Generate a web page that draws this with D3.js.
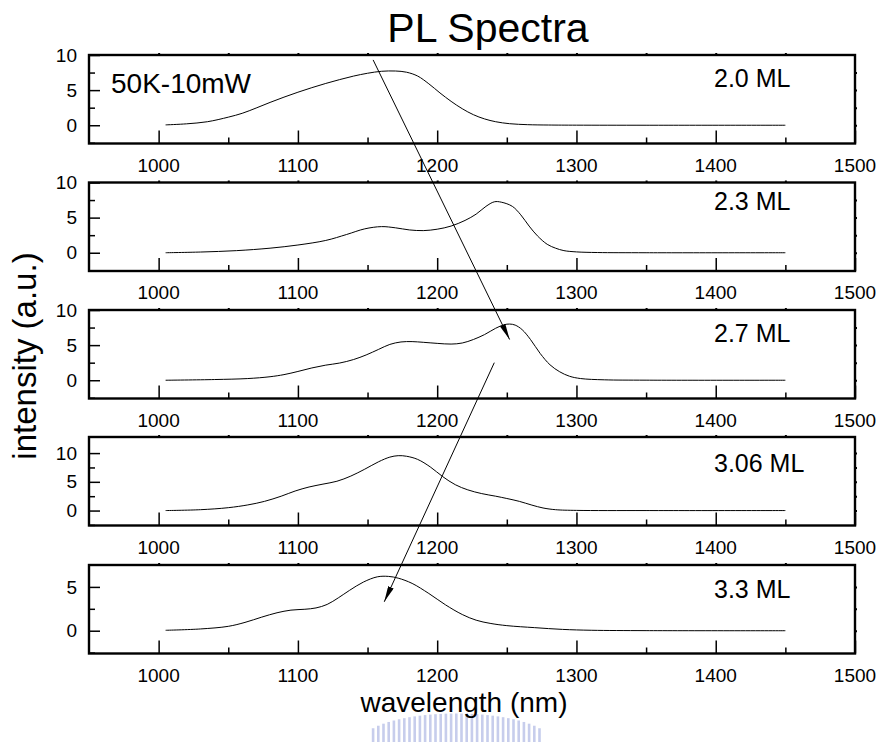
<!DOCTYPE html>
<html>
<head>
<meta charset="utf-8">
<script src="https://cdn.jsdelivr.net/npm/d3@7"></script>
<style>
  html, body { margin: 0; padding: 0; background: #fff; }
  svg { display: block; font-family: "Liberation Sans", Arial, sans-serif; }
</style>
</head>
<body>
<svg id="chart" width="882" height="742"></svg>
<script>
// ---------------- data ----------------
const panelLabels = ["2.0 ML", "2.3 ML", "2.7 ML", "3.06 ML", "3.3 ML"];
const xTicks = [1000, 1100, 1200, 1300, 1400, 1500];
const yDomains = [[-2.6, 10], [-2.6, 10], [-2.6, 10], [-2.6, 12.8], [-2.6, 7.5]];
const yTicks = [[0, 5, 10], [0, 5, 10], [0, 5, 10], [0, 5, 10], [0, 5]];

const wl_20 = [1005,1020,1035,1050,1060,1070,1080,1090,1100,1110,1120,1130,1140,1150,1160,1170,1178,1186,1194,1202,1210,1218,1226,1234,1242,1252,1265,1280,1300,1350,1450];
const in_20 = [0.05,0.2,0.5,1.15,1.7,2.45,3.25,4.0,4.7,5.35,5.95,6.5,7.0,7.4,7.68,7.72,7.55,7.0,5.9,4.6,3.4,2.35,1.5,0.9,0.5,0.22,0.08,0.03,0.01,0.0,0.0];

const wl_23 = [1005,1030,1056,1080,1100,1120,1135,1148,1160,1170,1180,1190,1200,1210,1220,1228,1235,1241,1246,1254,1260,1266,1272,1279,1285,1291,1300,1315,1350,1450];
const in_23 = [0.0,0.1,0.3,0.65,1.1,1.75,2.6,3.4,3.72,3.55,3.25,3.15,3.35,3.8,4.6,5.5,6.6,7.25,7.2,6.6,5.4,3.8,2.4,1.2,0.65,0.3,0.12,0.03,0.0,0.0];

const wl_27 = [1005,1040,1064,1080,1090,1100,1110,1120,1130,1140,1149,1158,1166,1174,1182,1190,1200,1210,1218,1226,1234,1242,1248,1252,1256,1261,1267,1274,1281,1288,1295,1303,1320,1350,1450];
const in_27 = [0.0,0.1,0.24,0.5,0.8,1.25,1.75,2.15,2.45,2.95,3.6,4.4,5.1,5.45,5.5,5.4,5.25,5.15,5.3,5.8,6.5,7.4,7.9,8.0,7.85,7.2,5.8,3.8,2.2,1.2,0.57,0.24,0.06,0.01,0.0];

const wl_306 = [1005,1030,1050,1064,1076,1088,1098,1108,1118,1128,1138,1148,1158,1166,1172,1178,1186,1195,1204,1213,1222,1232,1242,1250,1259,1268,1276,1285,1300,1350,1450];
const in_306 = [0.0,0.15,0.5,0.98,1.6,2.5,3.4,4.1,4.6,5.1,6.0,7.2,8.5,9.3,9.55,9.45,8.9,7.6,5.9,4.5,3.6,2.95,2.5,2.1,1.6,0.95,0.45,0.15,0.03,0.0,0.0];

const wl_33 = [1005,1030,1050,1062,1074,1085,1095,1105,1113,1121,1129,1137,1147,1157,1165,1172,1182,1194,1206,1218,1228,1238,1250,1270,1290,1311,1350,1450];
const in_33 = [0.05,0.2,0.5,0.95,1.55,2.05,2.35,2.45,2.6,3.0,3.75,4.6,5.55,6.15,6.2,6.0,5.4,4.25,2.95,1.85,1.2,0.84,0.58,0.35,0.15,0.05,0.01,0.0];

const wavelengths = [wl_20, wl_23, wl_27, wl_306, wl_33];
const intensities = [in_20, in_23, in_27, in_306, in_33];

// arrows: [panel index, wavelength, intensity] start -> end
const arrowStarts = [[0, 1154, 9.3], [2, 1241, 2.5]];
const arrowEnds   = [[2, 1252, 5.8], [4, 1162, 3.3]];

const titleText = "PL Spectra";
const conditionText = "50K-10mW";
const xTitle = "wavelength (nm)";
const yTitle = "intensity (a.u.)";

// ---------------- layout ----------------
const svg = d3.select("#chart");
const left = 89, right = 855;
const panelTops = [55, 182.5, 310, 437, 565];
const panelH = 88.5;
const labelBaselines = [87, 210, 342, 472, 598];

const x = d3.scaleLinear().domain([950, 1500]).range([left, right]);
const yScales = yDomains.map((d, i) => d3.scaleLinear().domain(d).range([panelTops[i] + panelH, panelTops[i]]));

// faint watermark (decorative, behind everything)
const wm = svg.append("g").attr("opacity", 0.55);
const wmCx = 455, wmR = 95;
d3.range(-16, 17).forEach(k => {
  const bx = wmCx + k * 5.2;
  const topY = 742 - Math.sqrt(Math.max(0, wmR * wmR - (k * 5.2) * (k * 5.2))) * 0.3;
  wm.append("rect").attr("x", bx).attr("y", topY).attr("width", 2.6).attr("height", 742 - topY)
    .attr("fill", "#9aa6de");
});

// arrow marker
svg.append("defs").append("marker")
  .attr("id", "arrowhead")
  .attr("viewBox", "0 0 16 6")
  .attr("refX", 16).attr("refY", 3)
  .attr("markerWidth", 16).attr("markerHeight", 6)
  .attr("markerUnits", "userSpaceOnUse")
  .attr("orient", "auto")
  .append("path").attr("d", "M0,0 L16,3 L0,6 Z").attr("fill", "#000");

const line = d3.line().curve(d3.curveCatmullRom.alpha(0.5));

panelLabels.forEach((lab, i) => {
  const y = yScales[i];
  const g = svg.append("g");
  const top = panelTops[i], bot = panelTops[i] + panelH;

  // curve
  const pts = wavelengths[i].map((w, k) => [x(w), y(intensities[i][k])]);
  g.append("path").attr("d", line(pts)).attr("fill", "none")
    .attr("stroke", "#000").attr("stroke-width", 1);

  // bottom axis ticks (inward)
  const bottomAxis = d3.axisBottom(x).tickValues(xTicks).tickSize(-13).tickFormat("").tickSizeOuter(0);
  const gb = g.append("g").attr("transform", `translate(0,${bot})`).call(bottomAxis);
  gb.select(".domain").remove();
  gb.selectAll("line").attr("stroke-width", 1.5);
  const minorX = d3.axisBottom(x).tickValues(d3.range(1050, 1500, 100)).tickSize(-6).tickFormat("");
  const gbm = g.append("g").attr("transform", `translate(0,${bot})`).call(minorX);
  gbm.select(".domain").remove();
  gbm.selectAll("line").attr("stroke-width", 1.5);
  // x tick labels
  g.selectAll(".xl").data(xTicks).enter().append("text")
    .attr("x", d => x(d)).attr("y", bot + 28)
    .attr("text-anchor", "middle").attr("font-size", 19).text(d => d);

  // top small ticks
  const topAxis = d3.axisTop(x).tickValues(d3.range(1000, 1500, 50)).tickSize(2).tickFormat("");
  const gt = g.append("g").attr("transform", `translate(0,${top})`).call(topAxis);
  gt.select(".domain").remove();
  gt.selectAll("line").attr("stroke-width", 2);

  // left ticks
  const leftAxis = d3.axisLeft(y).tickValues(yTicks[i]).tickSize(-11).tickFormat("");
  const gl = g.append("g").attr("transform", `translate(${left},0)`).call(leftAxis);
  gl.select(".domain").remove();
  gl.selectAll("line").attr("stroke-width", 1.5);
  const minorY = d3.range(-2.5, y.domain()[1], 2.5).filter(v => v % 5 !== 0 && v > y.domain()[0] && v < y.domain()[1] - 0.6);
  const glm = g.append("g").attr("transform", `translate(${left},0)`).call(d3.axisLeft(y).tickValues(minorY).tickSize(-6).tickFormat(""));
  glm.select(".domain").remove();
  glm.selectAll("line").attr("stroke-width", 1.5);
  g.selectAll(".yl").data(yTicks[i]).enter().append("text")
    .attr("x", left - 12).attr("y", d => y(d)).attr("dy", "0.35em")
    .attr("text-anchor", "end").attr("font-size", 19).text(d => d);

  // right small ticks
  const rightVals = d3.range(0, y.domain()[1], 2.5).filter(v => v < y.domain()[1] - 0.6);
  const gr = g.append("g").attr("transform", `translate(${right},0)`).call(d3.axisRight(y).tickValues(rightVals).tickSize(2).tickFormat(""));
  gr.select(".domain").remove();
  gr.selectAll("line").attr("stroke-width", 2);

  // frame
  g.append("rect").attr("x", left).attr("y", top).attr("width", right - left).attr("height", panelH)
    .attr("fill", "none").attr("stroke", "#000").attr("stroke-width", 2.4);

  // panel label
  g.append("text").attr("x", 714).attr("y", labelBaselines[i])
    .attr("font-size", 25).text(lab);
});

// condition label
svg.append("text").attr("x", 111).attr("y", 93).attr("font-size", 28).text(conditionText);

// arrows
arrowStarts.forEach((s, k) => {
  const e = arrowEnds[k];
  svg.append("line")
    .attr("x1", x(s[1])).attr("y1", yScales[s[0]](s[2]))
    .attr("x2", x(e[1])).attr("y2", yScales[e[0]](e[2]))
    .attr("stroke", "#000").attr("stroke-width", 1)
    .attr("marker-end", "url(#arrowhead)");
});

// titles
svg.append("text").attr("x", 488).attr("y", 42).attr("text-anchor", "middle")
  .attr("font-size", 41).text(titleText);
svg.append("text").attr("x", 464).attr("y", 712).attr("text-anchor", "middle")
  .attr("font-size", 28).text(xTitle);
svg.append("text").attr("transform", "translate(36,356) rotate(-90)")
  .attr("text-anchor", "middle").attr("font-size", 33).text(yTitle);
</script>
</body>
</html>
